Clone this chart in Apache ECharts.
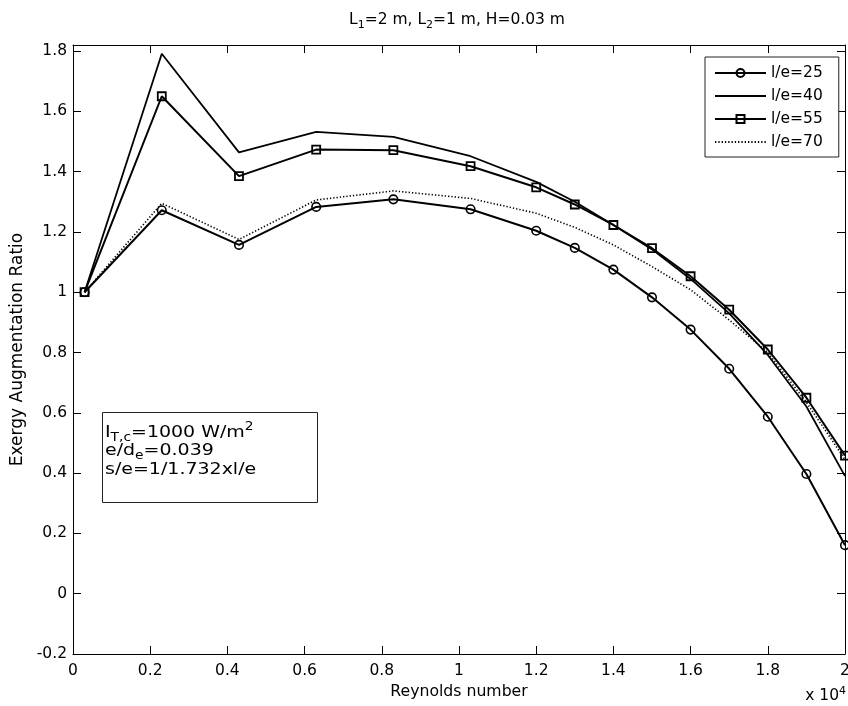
<!DOCTYPE html>
<html><head><meta charset="utf-8">
<script src="https://cdn.jsdelivr.net/npm/echarts@6/dist/echarts.min.js"></script>
<style>html,body{margin:0;padding:0;background:#fff}#c{width:848px;height:706px}</style>
</head><body><div id="c"></div>
<script>
// Reynolds number (x 10^4)
const reynolds = [0.03, 0.23, 0.43, 0.63, 0.83, 1.03, 1.2, 1.3, 1.4, 1.5, 1.6, 1.7, 1.8, 1.9, 2.0];
const le25 = [1.0, 1.272, 1.157, 1.283, 1.308, 1.275, 1.204, 1.147, 1.075, 0.983, 0.876, 0.746, 0.587, 0.397, 0.161];
const le40 = [1.0, 1.791, 1.464, 1.532, 1.515, 1.451, 1.366, 1.300, 1.223, 1.142, 1.044, 0.930, 0.792, 0.621, 0.390];
const le55 = [1.0, 1.650, 1.385, 1.473, 1.471, 1.418, 1.348, 1.291, 1.223, 1.146, 1.053, 0.942, 0.810, 0.650, 0.458];
const le70 = [1.0, 1.295, 1.175, 1.306, 1.336, 1.311, 1.262, 1.215, 1.157, 1.085, 1.008, 0.908, 0.800, 0.635, 0.445];
const seriesNames = ['l/e=25', 'l/e=40', 'l/e=55', 'l/e=70'];

const FONT = 'DejaVu Sans';
const pair = (ys) => reynolds.map((x, i) => [x, ys[i]]);
const chart = echarts.init(document.getElementById('c'), null, {renderer: 'canvas'});

// helper for text with sub/superscripts
const mctx = document.createElement('canvas').getContext('2d');
function tw(t, size) { mctx.font = size + 'px "' + FONT + '"'; return mctx.measureText(t).width; }
function richLine(pieces, x, yCenter, align, size, small, scaleX) {
  let w = 0;
  const kids = [];
  pieces.forEach(([t, k]) => {
    const s = k === 'n' ? size : small;
    const dy = k === 'sub' ? size * 0.32 : (k === 'sup' ? -size * 0.34 : 0);
    kids.push({type: 'text', x: w, y: dy, z: 20, zlevel: 0,
      style: {text: t, fontSize: s, fontFamily: FONT, fill: '#000', align: 'left', verticalAlign: 'middle'}});
    w += tw(t, s);
  });
  const sx = scaleX || 1;
  let gx = x;
  if (align === 'center') gx = x - w * sx / 2;
  else if (align === 'right') gx = x - w * sx;
  return {type: 'group', x: gx, y: yCenter, scaleX: sx, z: 20, children: kids};
}

const axisCommon = {
  type: 'value',
  axisLine: {show: true, onZero: false, lineStyle: {color: '#000', width: 1}},
  axisTick: {show: true, inside: true, length: 8, lineStyle: {color: '#000', width: 1}},
  splitLine: {show: false}
};
const labelStyle = {color: '#000', fontSize: 15.5, fontFamily: FONT};

const option = {
  backgroundColor: '#fff',
  animation: false,
  grid: {left: 73, right: 3, top: 45, bottom: 52, containLabel: false, outerBoundsMode: 'none'},
  xAxis: [
    Object.assign({}, axisCommon, {
      min: 0, max: 2, interval: 0.2, position: 'bottom',
      axisLabel: Object.assign({margin: 9}, labelStyle),
      name: 'Reynolds number', nameLocation: 'middle', nameGap: 30,
      nameTextStyle: {color: '#000', fontSize: 15.7, fontFamily: FONT}
    }),
    Object.assign({}, axisCommon, {
      min: 0, max: 2, interval: 0.2, position: 'top',
      axisLabel: {show: false}
    })
  ],
  yAxis: [
    Object.assign({}, axisCommon, {
      min: -0.2, max: 1.82, interval: 0.2, position: 'left',
      axisLabel: Object.assign({margin: 6, showMaxLabel: false}, labelStyle),
      name: 'Exergy Augmentation Ratio', nameLocation: 'middle', nameGap: 42,
      nameTextStyle: {color: '#000', fontSize: 17, fontFamily: FONT}
    }),
    Object.assign({}, axisCommon, {
      min: -0.2, max: 1.82, interval: 0.2, position: 'right',
      axisLabel: {show: false}
    })
  ],
  legend: {
    orient: 'vertical', left: 705, top: 57,
    padding: [8, 16, 7, 9], itemGap: 7, itemWidth: 51, itemHeight: 10,
    borderColor: '#222', borderWidth: 1, backgroundColor: '#fff',
    textStyle: {color: '#000', fontSize: 15.5, fontFamily: FONT, lineHeight: 14},
    data: seriesNames
  },
  series: [
    {
      name: seriesNames[0], type: 'line', data: pair(le25),
      symbol: 'circle', symbolSize: 8.5, showSymbol: true,
      lineStyle: {color: '#000', width: 2},
      itemStyle: {color: 'rgba(255,255,255,0)', borderColor: '#000', borderWidth: 1.6}
    },
    {
      name: seriesNames[1], type: 'line', data: pair(le40),
      symbol: 'none',
      lineStyle: {color: '#000', width: 1.8},
      itemStyle: {color: 'rgba(0,0,0,0)', borderWidth: 0}
    },
    {
      name: seriesNames[2], type: 'line', data: pair(le55),
      symbol: 'rect', symbolSize: 8, showSymbol: true,
      lineStyle: {color: '#000', width: 2},
      itemStyle: {color: 'rgba(255,255,255,0)', borderColor: '#000', borderWidth: 1.8}
    },
    {
      name: seriesNames[3], type: 'line', data: pair(le70),
      symbol: 'none',
      lineStyle: {color: '#000', width: 1.6, type: [1.3, 2]},
      itemStyle: {color: 'rgba(0,0,0,0)', borderWidth: 0}
    }
  ],
  graphic: [
    {
      type: 'rect', z: 5,
      shape: {x: 102.5, y: 412.5, width: 215, height: 90},
      style: {fill: '#fff', stroke: '#222', lineWidth: 1}
    },
    richLine([['L', 'n'], ['1', 'sub'], ['=2 m, L', 'n'], ['2', 'sub'], ['=1 m, H=0.03 m', 'n']], 457, 20, 'center', 15.5, 11),
    richLine([['x 10', 'n'], ['4', 'sup']], 846, 696, 'right', 15.5, 11),
    richLine([['I', 'n'], ['T,c', 'sub'], ['=1000 W/m', 'n'], ['2', 'sup']], 105, 432.5, 'left', 16.5, 12, 1.15),
    richLine([['e/d', 'n'], ['e', 'sub'], ['=0.039', 'n']], 105, 451, 'left', 16.5, 12, 1.15),
    richLine([['s/e=1/1.732xl/e', 'n']], 105, 470, 'left', 16.5, 12, 1.15)
  ]
};
chart.setOption(option);
</script>
</body></html>
